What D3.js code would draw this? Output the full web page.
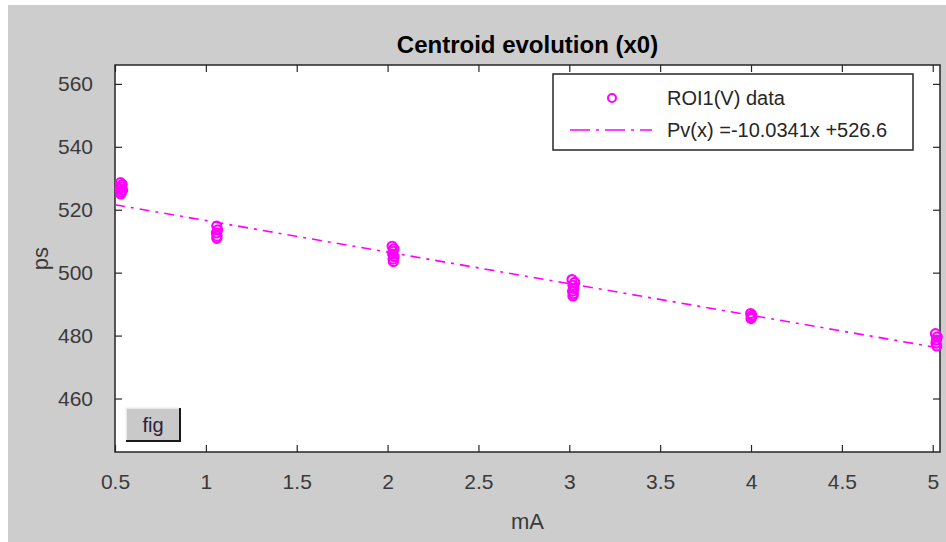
<!DOCTYPE html>
<html>
<head>
<meta charset="utf-8">
<script src="https://cdn.jsdelivr.net/npm/d3@7"></script>
<style>
  html, body { margin: 0; padding: 0; background: #ffffff; }
  svg { display: block; }
</style>
</head>
<body>
<svg id="chart" width="946" height="542"></svg>
<script>
// ---------- data ----------
const pointX = [0.530, 0.540, 0.535, 0.528, 0.542, 0.535, 0.532,
                1.060, 1.065, 1.058, 1.062, 1.060,
                2.025, 2.035, 2.030, 2.028, 2.036, 2.030, 2.032,
                3.015, 3.030, 3.020, 3.025, 3.018, 3.022, 3.020,
                3.998, 4.005, 4.002, 4.000,
                5.015, 5.025, 5.020, 5.018, 5.022];
const pointY = [528.6, 528.0, 527.3, 526.7, 526.2, 525.6, 525.0,
                514.8, 513.6, 512.6, 511.6, 510.9,
                508.4, 507.6, 506.8, 505.9, 505.1, 504.3, 503.5,
                497.8, 496.9, 496.0, 495.0, 494.1, 493.3, 492.6,
                487.0, 486.4, 485.8, 485.4,
                480.6, 479.6, 478.6, 477.6, 476.7];
const fitSlope = -10.0341;
const fitIntercept = 526.6;
const fitRange = [0.5, 5.04];
const xTicks = [0.5, 1, 1.5, 2, 2.5, 3, 3.5, 4, 4.5, 5];
const yTicks = [460, 480, 500, 520, 540, 560];
const titleText = "Centroid evolution (x0)";
const xLabel = "mA";
const yLabel = "ps";
const legendLabels = ["ROI1(V) data", "Pv(x) =-10.0341x +526.6"];

// ---------- layout ----------
const W = 946, H = 542;
const plot = { left: 115, top: 65, right: 940, bottom: 452 };
const magenta = "#ff00ff";
const axisColor = "#262626";
const font = "'Liberation Sans', Arial, Helvetica, sans-serif";

const svg = d3.select("#chart");

svg.append("rect").attr("x", 0).attr("y", 0).attr("width", W).attr("height", H).attr("fill", "#ffffff");
svg.append("rect").attr("x", 8).attr("y", 5).attr("width", W - 8).attr("height", H - 5).attr("fill", "#cdcdcd");

const x = d3.scaleLinear().domain([0.5, 5.04]).range([plot.left, plot.right]);
const y = d3.scaleLinear().domain([443, 566]).range([plot.bottom, plot.top]);

svg.append("rect")
  .attr("x", plot.left).attr("y", plot.top)
  .attr("width", plot.right - plot.left).attr("height", plot.bottom - plot.top)
  .attr("fill", "#ffffff");

const tickLen = 7;
function styleAxis(g, showLabels) {
  g.select(".domain").remove();
  g.selectAll(".tick line").attr("stroke", axisColor).attr("stroke-width", 1.2);
  g.selectAll(".tick text")
    .attr("fill", "#3a3a3a")
    .style("font-family", font)
    .style("font-size", "21px");
  if (!showLabels) g.selectAll(".tick text").remove();
}

const fmt = d => String(d);
svg.append("g")
  .attr("transform", `translate(0,${plot.bottom})`)
  .call(d3.axisBottom(x).tickValues(xTicks).tickFormat(fmt).tickSizeInner(-tickLen).tickPadding(22))
  .call(g => styleAxis(g, true));
svg.append("g")
  .attr("transform", `translate(0,${plot.top})`)
  .call(d3.axisTop(x).tickValues(xTicks).tickSizeInner(-tickLen))
  .call(g => styleAxis(g, false));
svg.append("g")
  .attr("transform", `translate(${plot.left},0)`)
  .call(d3.axisLeft(y).tickValues(yTicks).tickFormat(fmt).tickSizeInner(-tickLen).tickPadding(22))
  .call(g => styleAxis(g, true));
svg.append("g")
  .attr("transform", `translate(${plot.right},0)`)
  .call(d3.axisRight(y).tickValues(yTicks).tickSizeInner(-tickLen))
  .call(g => styleAxis(g, false));

svg.append("rect")
  .attr("x", plot.left).attr("y", plot.top)
  .attr("width", plot.right - plot.left).attr("height", plot.bottom - plot.top)
  .attr("fill", "none").attr("stroke", axisColor).attr("stroke-width", 1.5);

// fit line (dash-dot)
const fitData = fitRange.map(v => ({ x: v, y: fitSlope * v + fitIntercept }));
svg.append("path")
  .datum(fitData)
  .attr("d", d3.line().x(d => x(d.x)).y(d => y(d.y)))
  .attr("fill", "none")
  .attr("stroke", magenta)
  .attr("stroke-width", 1.6)
  .attr("stroke-dasharray", "10,6,3,6");

// data markers
svg.append("g").selectAll("circle")
  .data(pointX.map((v, i) => ({ x: v, y: pointY[i] })))
  .join("circle")
  .attr("cx", d => x(d.x))
  .attr("cy", d => y(d.y))
  .attr("r", 4.5)
  .attr("fill", "none")
  .attr("stroke", magenta)
  .attr("stroke-width", 2.2);

// title
svg.append("text")
  .attr("x", (plot.left + plot.right) / 2)
  .attr("y", 53)
  .attr("text-anchor", "middle")
  .attr("fill", "#000")
  .style("font-family", font)
  .style("font-size", "24px")
  .style("font-weight", "bold")
  .text(titleText);

svg.append("text")
  .attr("x", (plot.left + plot.right) / 2)
  .attr("y", 529)
  .attr("text-anchor", "middle")
  .attr("fill", "#3a3a3a")
  .style("font-family", font)
  .style("font-size", "22px")
  .text(xLabel);
svg.append("text")
  .attr("transform", `translate(48,${(plot.top + plot.bottom) / 2}) rotate(-90)`)
  .attr("text-anchor", "middle")
  .attr("fill", "#3a3a3a")
  .style("font-family", font)
  .style("font-size", "22px")
  .text(yLabel);

// legend
const lg = svg.append("g");
lg.append("rect")
  .attr("x", 553).attr("y", 74).attr("width", 360).attr("height", 76)
  .attr("fill", "#ffffff").attr("stroke", axisColor).attr("stroke-width", 1.5);
lg.append("circle")
  .attr("cx", 612).attr("cy", 98).attr("r", 4)
  .attr("fill", "none").attr("stroke", magenta).attr("stroke-width", 2);
lg.append("line")
  .attr("x1", 570).attr("x2", 652).attr("y1", 130).attr("y2", 130)
  .attr("stroke", magenta).attr("stroke-width", 1.6)
  .attr("stroke-dasharray", "20,6,3,6");
lg.selectAll("text.leg")
  .data(legendLabels)
  .join("text")
  .attr("class", "leg")
  .attr("x", 667)
  .attr("y", (d, i) => 98 + i * 32)
  .attr("dy", "0.35em")
  .attr("fill", "#262626")
  .style("font-family", font)
  .style("font-size", "20px")
  .text(d => d);

// "fig" button
const bx = 126, by = 408, bw = 54, bh = 33;
svg.append("rect").attr("x", bx).attr("y", by).attr("width", bw).attr("height", bh).attr("fill", "#c9c9c9");
svg.append("path").attr("d", `M${bx},${by + bh} L${bx},${by} L${bx + bw},${by}`)
  .attr("fill", "none").attr("stroke", "#f2f2f2").attr("stroke-width", 1.5);
svg.append("path").attr("d", `M${bx},${by + bh} L${bx + bw},${by + bh} L${bx + bw},${by}`)
  .attr("fill", "none").attr("stroke", "#1a1a1a").attr("stroke-width", 2);
svg.append("text")
  .attr("x", bx + bw / 2).attr("y", by + bh / 2)
  .attr("dy", "0.35em")
  .attr("text-anchor", "middle")
  .attr("fill", "#2a2040")
  .style("font-family", font)
  .style("font-size", "20px")
  .text("fig");
</script>
</body>
</html>
